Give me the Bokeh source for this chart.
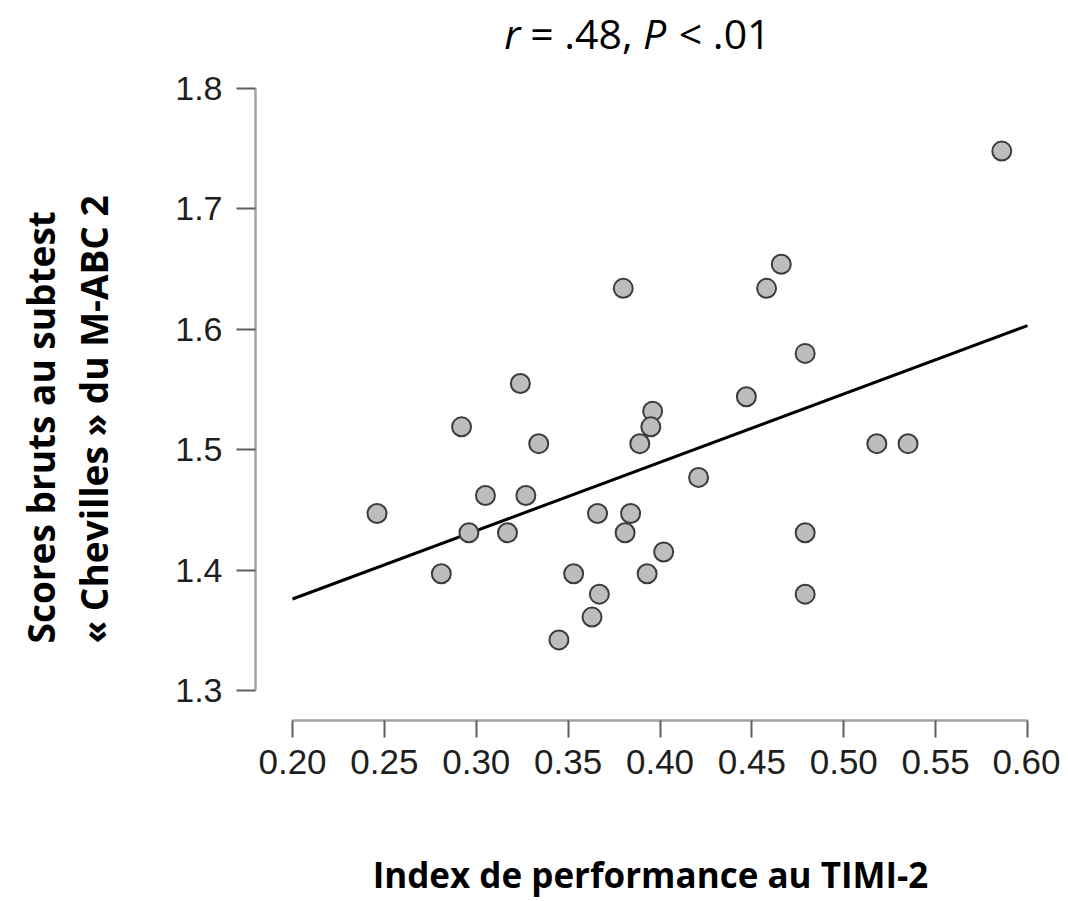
import math
from bokeh.plotting import figure
from bokeh.models import Range1d, FixedTicker, PrintfTickFormatter, Label, Title
from bokeh.embed import file_html
from bokeh.resources import INLINE

# ---- data ----
timi = [0.246, 0.281, 0.292, 0.296, 0.305, 0.317, 0.324, 0.327, 0.334, 0.345,
        0.353, 0.366, 0.367, 0.363, 0.384, 0.381, 0.389, 0.393, 0.396, 0.395,
        0.380, 0.421, 0.402, 0.447, 0.458, 0.466, 0.479, 0.479, 0.479, 0.518,
        0.535, 0.586]
chevilles = [1.447, 1.397, 1.519, 1.431, 1.462, 1.431, 1.555, 1.462, 1.505, 1.342,
             1.397, 1.447, 1.380, 1.361, 1.447, 1.431, 1.505, 1.397, 1.532, 1.519,
             1.634, 1.477, 1.415, 1.544, 1.634, 1.654, 1.580, 1.431, 1.380, 1.505,
             1.505, 1.748]
fit_x = [0.20, 0.60]
fit_y = [1.376, 1.603]
x_ticks = [0.20, 0.25, 0.30, 0.35, 0.40, 0.45, 0.50, 0.55, 0.60]
y_ticks = [1.3, 1.4, 1.5, 1.6, 1.7, 1.8]
title_parts = ["r", "= .48,", "P", "< .01"]
title_styles = ["italic", "normal", "italic", "normal"]
x_label = "Index de performance au TIMI-2"
y_label_lines = ["Scores bruts au subtest", "\u00ab Chevilles \u00bb du M-ABC 2"]

# ---- layout constants ----
W, H = 1060, 901
FRAME_L, FRAME_R, FRAME_B = 255, 1045, 720
PX_PER_X = 1837.5
PX_PER_Y = 1204.0

p = figure(width=W, height=H, output_backend="svg", toolbar_location=None,
           x_range=Range1d(x_ticks[0] - 37 / PX_PER_X, x_ticks[-1] + 18 / PX_PER_X),
           y_range=Range1d(y_ticks[0] - 30 / PX_PER_Y, y_ticks[-1] + 88 / PX_PER_Y),
           min_border_left=FRAME_L, min_border_right=W - FRAME_R, min_border_top=0,
           min_border_bottom=H - FRAME_B)
p.outline_line_color = None
p.xgrid.visible = False
p.ygrid.visible = False
p.background_fill_color = "white"
p.border_fill_color = "white"

# axes (R-style, bounded)
for ax, ticks, fmt in ((p.xaxis[0], x_ticks, "%.2f"), (p.yaxis[0], y_ticks, "%.1f")):
    ax.ticker = FixedTicker(ticks=ticks)
    ax.formatter = PrintfTickFormatter(format=fmt)
    ax.bounds = (ticks[0], ticks[-1])
    ax.axis_line_color = "#a3a3a3"
    ax.axis_line_width = 2.5
    ax.major_tick_line_color = "#5e5e5e"
    ax.major_tick_line_width = 2
    ax.major_tick_in = 0
    ax.minor_tick_line_color = None
    ax.major_label_text_font = "Liberation Sans"
    ax.major_label_text_color = "#1e1e1e"

p.xaxis.major_tick_out = 17
p.xaxis.major_label_standoff = 12
p.xaxis.major_label_text_font_size = "35px"
p.yaxis.major_tick_out = 19
p.yaxis.major_label_standoff = 14
p.yaxis.major_label_text_font_size = "34px"

p.xaxis.axis_label = x_label
p.xaxis.axis_label_text_font = "Open Sans"
p.xaxis.axis_label_text_font_style = "bold"
p.xaxis.axis_label_text_font_size = "35px"
p.xaxis.axis_label_text_color = "black"
p.xaxis.axis_label_standoff = 74

# invisible spacer label on the y axis to make room between ticks and y title
p.yaxis.axis_label = "\u00a0"
p.yaxis.axis_label_text_font = "Open Sans"
p.yaxis.axis_label_text_font_style = "bold"
p.yaxis.axis_label_text_font_size = "36px"
p.yaxis.axis_label_standoff = 0

# regression line and points
p.line(fit_x, fit_y, line_color="black", line_width=3)
p.scatter(timi, chevilles, size=19, fill_color="#bdbdbd", line_color="#3c3c3c",
          line_width=2)

# title with italic pieces (screen units relative to the frame, inside it)
title_size = 41
title_offsets_em = [0.0, 0.632, 3.382, 4.255]
title_total_em = 6.497
x0 = 637 - FRAME_L - title_total_em * title_size / 2
for txt, style, off in zip(title_parts, title_styles, title_offsets_em):
    p.add_layout(Label(x=x0 + off * title_size, y=FRAME_B - 32,
                       x_units="screen", y_units="screen",
                       text=txt, text_font="Open Sans", text_font_style=style,
                       text_font_size=f"{title_size}px", text_color="black",
                       text_align="left", text_baseline="alphabetic"))

# two-line rotated y label as side titles (inner line first)
for line, standoff in ((y_label_lines[1], 0), (y_label_lines[0], 0)):
    p.add_layout(Title(text=line, align="left", vertical_align="top", offset=77,
                       standoff=standoff, text_font="Open Sans",
                       text_font_style="bold", text_font_size="37px",
                       text_color="black"), "left")

open("out.html", "w").write(file_html(p, INLINE))
